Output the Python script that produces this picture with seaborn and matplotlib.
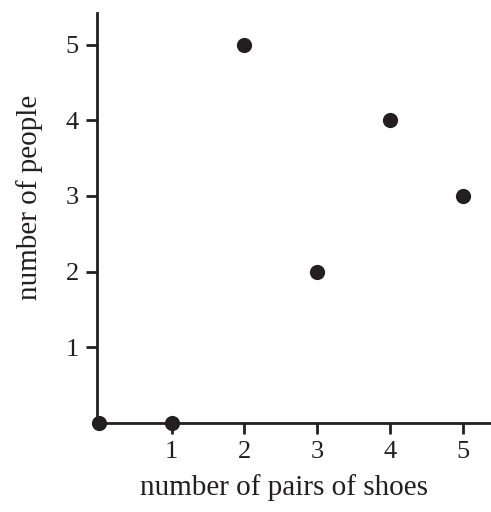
import matplotlib
matplotlib.use('Agg')
import matplotlib.pyplot as plt
import seaborn as sns
import pandas as pd

# --- Data ---
pairs_of_shoes = [0, 1, 2, 3, 4, 5]
num_people = [0, 0, 5, 2, 4, 3]
x_ticks = [1, 2, 3, 4, 5]
y_ticks = [1, 2, 3, 4, 5]

INK = '#231f20'

sns.set_style('ticks')
plt.rcParams['font.family'] = ['Liberation Serif', 'DejaVu Serif']

df = pd.DataFrame({'shoes': pairs_of_shoes, 'people': num_people})

fig = plt.figure(figsize=(4.91, 5.12), dpi=100)
ax = fig.add_axes([0.1976, 0.174, 0.80, 0.801])

sns.scatterplot(data=df, x='shoes', y='people', ax=ax, color=INK, s=120,
                edgecolor=INK, linewidth=0, clip_on=False, zorder=5)

ax.set_xlim(-0.025, 5.37)
ax.set_ylim(0, 5.42)
ax.set_xticks(x_ticks)
ax.set_yticks(y_ticks)
ax.tick_params(axis='both', direction='out', length=8, width=2, colors=INK,
               labelsize=19, pad=5)

for side in ['top', 'right']:
    ax.spines[side].set_visible(False)
for side in ['left', 'bottom']:
    ax.spines[side].set_linewidth(2)
    ax.spines[side].set_color(INK)

ax.set_xlabel('number of pairs of shoes', fontsize=21, color=INK, labelpad=8, x=0.475)
ax.set_ylabel('number of people', fontsize=21, color=INK, labelpad=16, y=0.55)

plt.savefig('out.png', dpi=100)
plt.close()
